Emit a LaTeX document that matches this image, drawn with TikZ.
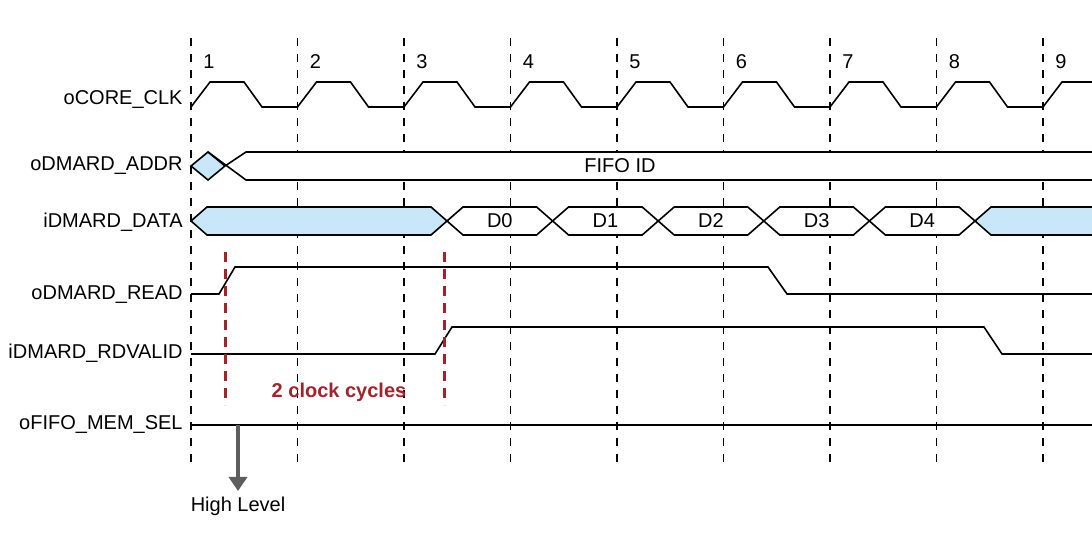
\documentclass[tikz,border=0pt]{standalone}
\usepackage{fontspec}
\setmainfont{Liberation Sans}
\usetikzlibrary{arrows.meta, positioning}
\definecolor{tdBlue}{HTML}{C8E8F9}
\definecolor{tdRed}{HTML}{A3232B}
\definecolor{tdGrey}{HTML}{5E5E5E}
\tikzset{
  gridline/.style  = {black, line width=0.7pt, dash pattern=on 4pt off 4pt},
  cycleline/.style = {tdRed, line width=1.5pt, dash pattern=on 5pt off 3.5pt},
  sig/.style       = {black, line width=0.8pt, line join=miter},
  selarrow/.style  = {-{Triangle[length=7pt, width=9pt]}, tdGrey, line width=2.4pt},
  lbl/.style       = {font=\fontsize{10}{12}\selectfont, inner sep=0pt},
  redlbl/.style    = {font=\fontsize{10}{12}\selectfont\bfseries, tdRed, inner sep=0pt},
}

\begin{document}
\begin{tikzpicture}[x=0.5pt, y=-0.5pt]
  \useasboundingbox (0,0) rectangle (1092,544);
  % clock grid
  \foreach \k in {0,...,8} {
    \draw[gridline] ({191+106.5*\k},38) -- ({191+106.5*\k},465);
    \pgfmathtruncatemacro\num{\k+1}
    \node[lbl] (n\num) at ({209+106.5*\k},62) {\num};
  }
  % signal names
  \node[lbl, anchor=east] (lclk)   at (183,100) {oCORE\_CLK};
  \node[lbl, anchor=east] (laddr)  at (183,166) {oDMARD\_ADDR};
  \node[lbl, anchor=east] (ldata)  at (183,222) {iDMARD\_DATA};
  \node[lbl, anchor=east] (lread)  at (183,295) {oDMARD\_READ};
  \node[lbl, anchor=east] (lvalid) at (183,353) {iDMARD\_RDVALID};
  \node[lbl, anchor=east] (lsel)   at (183,425) {oFIFO\_MEM\_SEL};
  % clock
  \draw[sig] (191,107) \foreach \k in {0,...,7} { -- ++(19,-25) -- ++(34,0) -- ++(18,25) -- ++(35.5,0) }
    -- ++(19,-25) -- (1092,82);
  % address bus
  \filldraw[sig, fill=tdBlue] (191,166) -- (208,152) -- (225,166) -- (208,180) -- cycle;
  \fill[white] (225,166) -- (246,152) -- (1092,152) -- (1092,180) -- (246,180) -- cycle;
  \draw[sig] (208,152) -- (246,180) -- (1092,180);
  \draw[sig] (225,166) -- (246,152) -- (1092,152);
  \node[lbl] (fifoid) at (620,166) {FIFO ID};
  % data bus
  \filldraw[sig, fill=tdBlue] (191,221) -- (207,207) -- (431,207) -- (447,221) -- (431,235) -- (207,235) -- cycle;
  \foreach \i in {0,...,4} {
    \pgfmathsetmacro\xa{447+105.6*\i}
    \pgfmathsetmacro\xb{\xa+105.6}
    \filldraw[sig, fill=white] (\xa,221) -- (\xa+16,207) -- (\xb-16,207) -- (\xb,221) -- (\xb-16,235) -- (\xa+16,235) -- cycle;
    \node[lbl] (d\i) at ({(\xa+\xb)/2},221) {D\i};
  }
  \fill[tdBlue] (975,221) -- (991,207) -- (1092,207) -- (1092,235) -- (991,235) -- cycle;
  \draw[sig] (1092,207) -- (991,207) -- (975,221) -- (991,235) -- (1092,235);
  % read / valid / select
  \draw[sig] (191,294) -- (219,294) -- (235,267) -- (768,267) -- (787,294) -- (1092,294);
  \draw[sig] (191,354) -- (435,354) -- (452,327) -- (984,327) -- (1002,354) -- (1092,354);
  \draw[sig] (191,425) -- (1092,425);
  % latency
  \draw[cycleline] (225,252) -- (225,405);
  \draw[cycleline] (444,252) -- (444,405);
  \node[redlbl] (cyc) at (339,392) {2 clock cycles};
  % level note
  \coordinate (selpt) at (238,425);
  \node[lbl, anchor=north] (hilvl) at (238,497) {High Level};
  \draw[selarrow] (selpt) -- ([yshift=3pt]hilvl.north);
\end{tikzpicture}
\end{document}
